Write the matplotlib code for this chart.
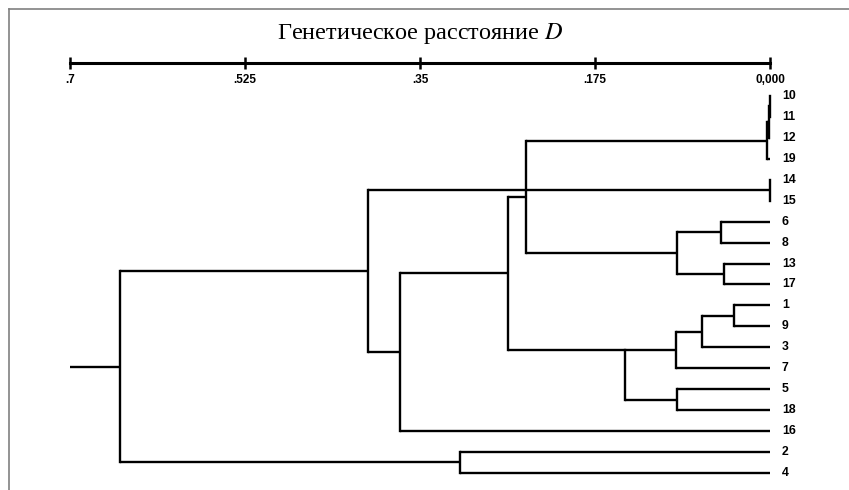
import matplotlib
matplotlib.use("Agg")
import matplotlib.pyplot as plt
from matplotlib.lines import Line2D
from matplotlib.transforms import offset_copy

plt.rcParams["mathtext.fontset"] = "stix"

# leaf order, top to bottom
leaves = ["10", "11", "12", "19", "14", "15", "6", "8", "13", "17",
          "1", "9", "3", "7", "5", "18", "16", "2", "4"]

# internal nodes: name -> (children, genetic distance D)
node_children = {
    "a": ["10", "11"], "b": ["a", "12"], "c": ["b", "19"],
    "d": ["14", "15"],
    "e": ["6", "8"], "f": ["13", "17"], "g": ["e", "f"],
    "h": ["c", "g"],
    "i": ["1", "9"], "j": ["i", "3"], "k": ["j", "7"],
    "l": ["5", "18"], "m": ["k", "l"],
    "n": ["h", "m"], "o": ["n", "16"], "p": ["d", "o"],
    "q": ["2", "4"], "root": ["p", "q"],
}
node_height = {
    "a": 0.000, "b": 0.001, "c": 0.003, "d": 0.000,
    "e": 0.049, "f": 0.046, "g": 0.093, "h": 0.244,
    "i": 0.036, "j": 0.068, "k": 0.094, "l": 0.093,
    "m": 0.145, "n": 0.262, "o": 0.370, "p": 0.402,
    "q": 0.310, "root": 0.650,
}
# the original program hooks this node in at its first child
anchor_first = ["m"]
scale_max = 0.7

scale_ticks = [0.7, 0.525, 0.35, 0.175, 0.0]
scale_labels = [".7", ".525", ".35", ".175", "0,000"]
title = "Генетическое расстояние $D$"

# ---------------------------------------------------------------
fig = plt.figure(figsize=(8.49, 4.90), dpi=100)
ax = fig.add_axes([0, 0, 1, 1])
x_left, x_right = 0.770, -0.079
ax.set_xlim(x_left, x_right)
ax.set_ylim(18.816, -4.585)
ax.axis("off")

ypos = {name: float(i) for i, name in enumerate(leaves)}
xpos = {name: 0.0 for name in leaves}


def place(name):
    if name in ypos:
        return ypos[name]
    kids = node_children[name]
    ys = [place(k) for k in kids]
    ypos[name] = ys[0] if name in anchor_first else sum(ys) / len(ys)
    xpos[name] = node_height[name]
    return ypos[name]


place("root")

lw = 1.7
for name, kids in node_children.items():
    x = node_height[name]
    ys = [ypos[k] for k in kids]
    ax.plot([x, x], [min(ys), max(ys)], color="black", lw=lw, solid_capstyle="projecting")
    for k in kids:
        ax.plot([x, xpos[k]], [ypos[k], ypos[k]], color="black", lw=lw,
                solid_capstyle="butt")
# root stub
ax.plot([scale_max, node_height["root"]], [ypos["root"], ypos["root"]],
        color="black", lw=lw, solid_capstyle="butt")

lab_tr = offset_copy(ax.transData, fig=fig, x=8.5, y=0, units="points")
for name in leaves:
    ax.text(0.0, ypos[name], name, transform=lab_tr, ha="left", va="center",
            fontsize=8.8, fontweight="bold", family="Liberation Sans")

# scale bar on top
span = x_left - x_right
sc = fig.add_axes([(x_left - scale_max) / span, 1 - 63 / 490, scale_max / span, 0.001])
sc.set_xlim(scale_max, 0.0)
sc.set_ylim(0, 1)
for s in ["top", "left", "right"]:
    sc.spines[s].set_visible(False)
sc.spines["bottom"].set_linewidth(2.2)
sc.set_yticks([])
sc.set_xticks(scale_ticks)
sc.set_xticklabels(scale_labels)
sc.tick_params(axis="x", direction="inout", length=8, width=1.8, pad=4,
               labelsize=8.5)
for t in sc.get_xticklabels():
    t.set_fontweight("bold")
    t.set_family("Liberation Sans")
sc.patch.set_visible(False)

fig.text(0.495, 1 - 33 / 490, title, ha="center", va="center",
         fontsize=17.5, family="Liberation Serif")

# grey frame (top and left edges)
fig.add_artist(Line2D([9 / 849, 1], [1 - 9 / 490, 1 - 9 / 490],
                      transform=fig.transFigure, color="#808080", lw=1.2))
fig.add_artist(Line2D([9 / 849, 9 / 849], [0, 1 - 9 / 490],
                      transform=fig.transFigure, color="#808080", lw=1.2))

fig.savefig("out.png", dpi=100)
